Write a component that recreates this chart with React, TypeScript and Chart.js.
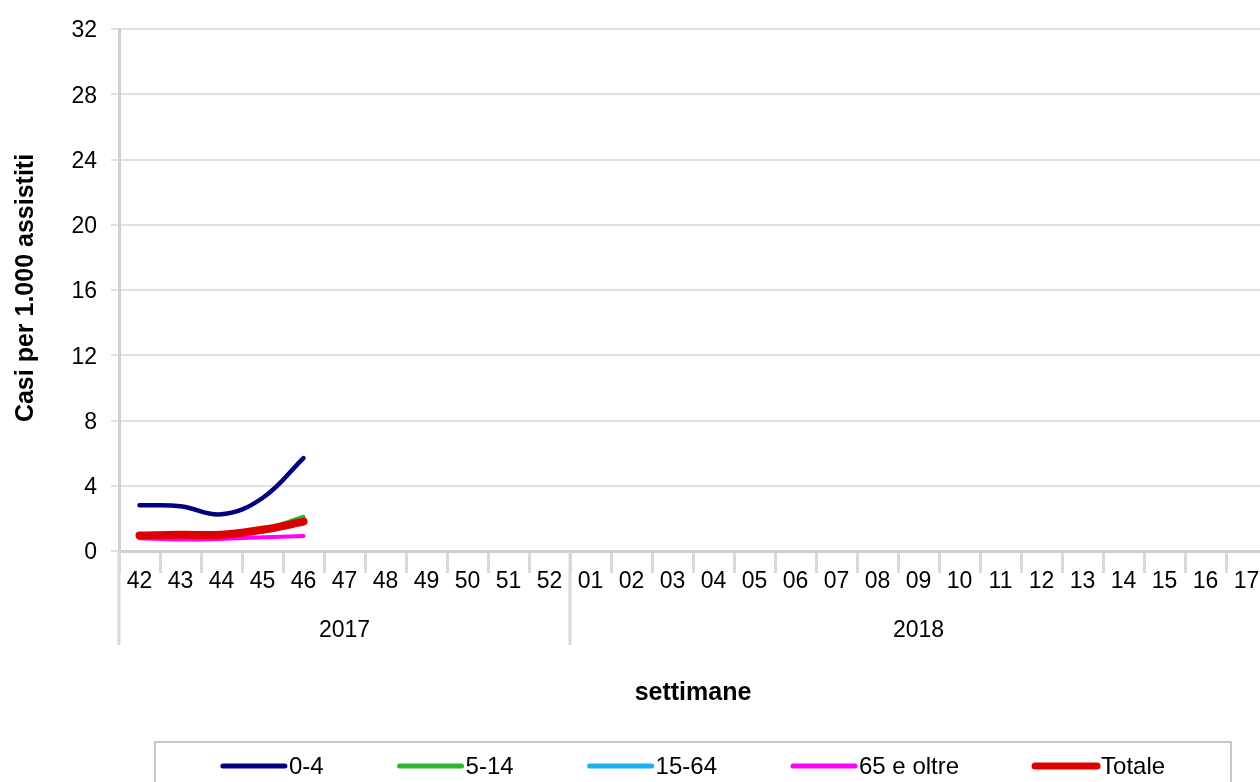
import React, { useEffect, useRef } from "react";
import { Chart, registerables } from "chart.js";

Chart.register(...registerables);

const WEEKS: string[] = [
  "42", "43", "44", "45", "46", "47", "48", "49", "50", "51", "52",
  "01", "02", "03", "04", "05", "06", "07", "08", "09", "10", "11", "12", "13", "14", "15", "16", "17",
];
const YEARS: { label: string; count: number }[] = [
  { label: "2017", count: 11 },
  { label: "2018", count: 17 },
];
const Y_TICKS_MAX = 32;
const Y_STEP = 4;

const pad = (vals: number[]): (number | null)[] =>
  WEEKS.map((_, i) => (i < vals.length ? vals[i] : null));

const AGE_0_4 = [2.8, 2.75, 2.25, 3.25, 5.7];
const AGE_5_14 = [0.95, 1.0, 1.0, 1.32, 2.1];
const AGE_15_64 = [0.9, 0.95, 0.95, 1.2, 1.7];
const AGE_65 = [0.78, 0.7, 0.74, 0.85, 0.92];
const TOTALE = [0.95, 1.0, 1.0, 1.3, 1.8];

const SERIES_NAMES = ["0-4", "5-14", "15-64", "65 e oltre", "Totale"];
const COLORS = ["#000080", "#2eb82e", "#1ab2f0", "#ff00ff", "#dd0000"];
const WIDTHS = [4.5, 4, 4, 4, 8];

const FONT = "'Liberation Sans', Arial, sans-serif";

const overlay = {
  id: "overlay",
  afterDraw(chart: any) {
    const { ctx, chartArea, scales } = chart;
    const x = scales.x;
    ctx.save();
    // y title
    ctx.fillStyle = "#000";
    ctx.font = `bold 25px ${FONT}`;
    ctx.textAlign = "center";
    ctx.textBaseline = "middle";
    ctx.save();
    ctx.translate(26, (chartArea.top + chartArea.bottom) / 2 - 2);
    ctx.rotate(-Math.PI / 2);
    ctx.fillText("Casi per 1.000 assistiti", 0, 0);
    ctx.restore();

    // year groups
    const half = (x.getPixelForValue(1) - x.getPixelForValue(0)) / 2;
    let idx = 0;
    ctx.strokeStyle = "#d9d9d9";
    ctx.lineWidth = 3;
    ctx.font = `23px ${FONT}`;
    YEARS.forEach((y) => {
      const start = x.getPixelForValue(idx) - half;
      const end = x.getPixelForValue(idx + y.count - 1) + half;
      ctx.beginPath();
      ctx.moveTo(start, chartArea.bottom);
      ctx.lineTo(start, chartArea.bottom + 94);
      ctx.stroke();
      ctx.fillStyle = "#000";
      ctx.fillText(y.label, (start + end) / 2, chartArea.bottom + 80);
      idx += y.count;
    });

    // x title
    const cx = (chartArea.left + chartArea.right) / 2;
    ctx.font = `bold 25px ${FONT}`;
    ctx.fillText("settimane", cx, 693);

    // legend
    const ds = chart.data.datasets;
    ctx.font = `24px ${FONT}`;
    const lineW = 66;
    const gapText = 6;
    const itemGap = 70;
    const widths = ds.map((d: any) => lineW + gapText + ctx.measureText(d.label).width);
    const total = widths.reduce((a: number, b: number) => a + b, 0) + itemGap * (ds.length - 1);
    const boxL = cx - 538;
    const boxR = cx + 538;
    ctx.strokeStyle = "#c8c8c8";
    ctx.lineWidth = 2;
    ctx.beginPath();
    ctx.moveTo(boxL, 800);
    ctx.lineTo(boxL, 742);
    ctx.lineTo(boxR, 742);
    ctx.lineTo(boxR, 800);
    ctx.stroke();
    let lx = cx - total / 2 + 2;
    const ly = 767;
    ds.forEach((d: any, i: number) => {
      ctx.strokeStyle = d.borderColor;
      ctx.lineWidth = d.label === "Totale" ? 7 : 5;
      ctx.lineCap = "round";
      ctx.beginPath();
      ctx.moveTo(lx + 2, ly - 1);
      ctx.lineTo(lx + lineW - 2, ly - 1);
      ctx.stroke();
      ctx.fillStyle = "#000";
      ctx.textAlign = "left";
      ctx.fillText(d.label, lx + lineW + gapText - 4, ly);
      lx += widths[i] + itemGap;
    });
    ctx.restore();
  },
};

export default function App() {
  const ref = useRef<HTMLCanvasElement | null>(null);
  useEffect(() => {
    if (!ref.current) return;
    const data = [AGE_0_4, AGE_5_14, AGE_15_64, AGE_65, TOTALE];
    const chart = new Chart(ref.current, {
      type: "line",
      data: {
        labels: WEEKS,
        datasets: data.map((vals, i) => ({
          label: SERIES_NAMES[i],
          data: pad(vals),
          borderColor: COLORS[i],
          backgroundColor: COLORS[i],
          borderWidth: WIDTHS[i],
          pointRadius: 0,
          tension: 0.4,
          fill: false,
          order: i === 4 ? 0 : i === 1 ? 2 : i === 0 ? 1 : 3 + i,
          borderCapStyle: "round",
        })),
      },
      options: {
        responsive: false,
        animation: false,
        devicePixelRatio: 1,
        layout: { padding: { top: 29, right: 23, left: 0, bottom: 0 } },
        plugins: { legend: { display: false }, tooltip: { enabled: false } },
        scales: {
          x: {
            offset: true,
            afterFit: (s: any) => {
              s.height = 231;
            },
            grid: {
              display: true,
              offset: true,
              drawOnChartArea: false,
              drawTicks: true,
              tickLength: 22,
              color: "#d9d9d9",
              lineWidth: 3,
            },
            border: { color: "#d0d0d0", width: 3 },
            ticks: {
              autoSkip: false,
              maxRotation: 0,
              color: "#000",
              padding: -5,
              font: { family: FONT, size: 23 },
            },
          },
          y: {
            min: 0,
            max: Y_TICKS_MAX,
            afterFit: (s: any) => {
              s.width = 119;
            },
            grid: { color: "#e0e0e0", lineWidth: 2, tickLength: 8 },
            border: { color: "#d0d0d0", width: 3 },
            ticks: {
              stepSize: Y_STEP,
              color: "#000",
              padding: 14,
              labelOffset: 2,
              font: { family: FONT, size: 23 },
            },
          },
        },
      },
      plugins: [overlay],
    });
    return () => chart.destroy();
  }, []);
  return (
    <div
      style={{
        position: "fixed",
        left: 0,
        top: 0,
        width: 1260,
        height: 782,
        overflow: "hidden",
        background: "#fff",
      }}
    >
      <canvas ref={ref} width={1290} height={782} style={{ display: "block" }} />
    </div>
  );
}
